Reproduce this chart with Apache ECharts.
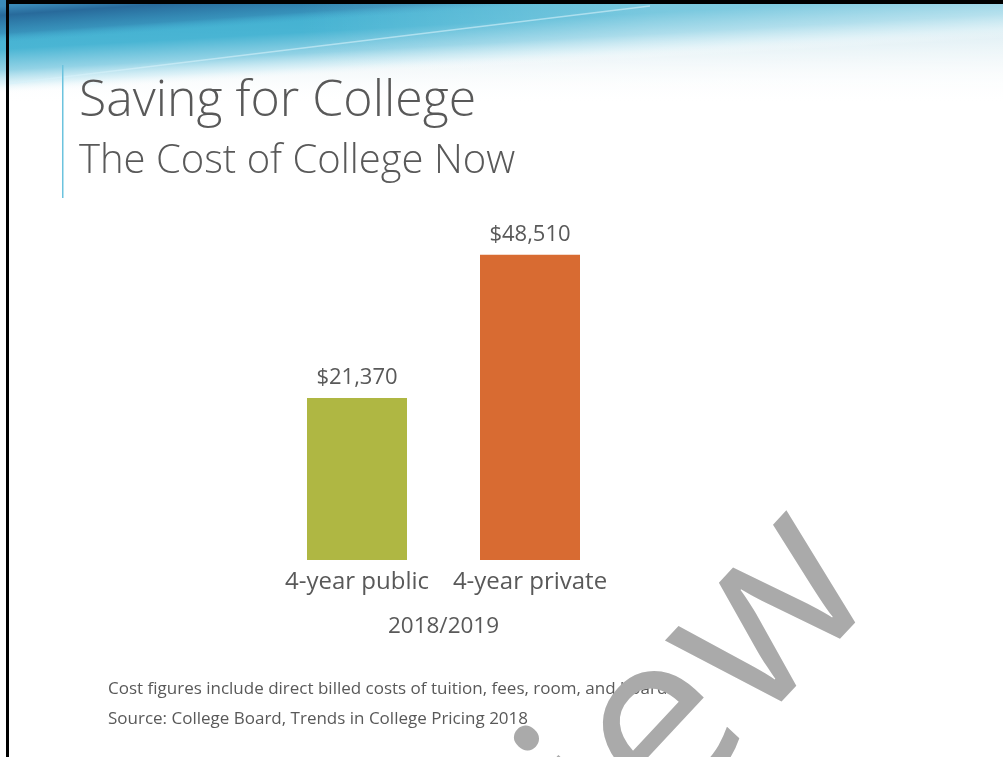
<!DOCTYPE html>
<html>
<head>
<meta charset="utf-8">
<script src="https://cdn.jsdelivr.net/npm/echarts@6/dist/echarts.min.js"></script>
<style>
html,body{margin:0;padding:0;background:#fff;}
#chart{width:1003px;height:757px;}
</style>
</head>
<body>
<div id="chart"></div>
<script>
// ---- data ----
var categories = ['4-year public', '4-year private'];
var costs = [21370, 48510];
var barColors = ['#afb743', '#d86b32'];
var axisName = '2018/2019';
var titleText = 'Saving for College';
var subtitleText = 'The Cost of College Now';
var notes = ['Cost figures include direct billed costs of tuition, fees, room, and board.',
             'Source: College Board, Trends in College Pricing 2018'];
var watermark = 'Preview';

var FONT = '"Open Sans", "Noto Sans", sans-serif';
var TXT = '#595959';
var DEG = Math.PI / 180;

function money(v) {
  return '$' + v.toLocaleString('en-US');
}

var chart = echarts.init(document.getElementById('chart'), null, {renderer: 'canvas'});

var option = {
  backgroundColor: '#ffffff',
  animation: false,
  grid: {left: 270.5, right: 386.5, top: 247, bottom: 197, containLabel: false},
  xAxis: {
    type: 'category',
    data: categories,
    name: axisName,
    nameLocation: 'middle',
    nameGap: 55,
    nameTextStyle: {fontFamily: FONT, fontSize: 22.5, color: TXT},
    axisLine: {show: false},
    axisTick: {show: false},
    axisLabel: {fontFamily: FONT, fontSize: 24, color: TXT, margin: 10, interval: 0}
  },
  yAxis: {
    type: 'value',
    min: -9300,
    max: 50000,
    show: false,
    splitLine: {show: false}
  },
  series: [{
    type: 'custom',
    data: categories.map(function (c, i) { return [i, costs[i]]; }),
    encode: {x: 0, y: 1},
    renderItem: function (params, api) {
      var cat = api.value(0), val = api.value(1);
      var top = api.coord([cat, val]);
      var cs = params.coordSys;
      var baseY = cs.y + cs.height;
      var w = api.size([1, 0])[0] * 0.578;
      return {
        type: 'group',
        children: [
          {type: 'rect', shape: {x: top[0] - w / 2, y: top[1], width: w, height: baseY - top[1]},
           style: {fill: barColors[params.dataIndex]}},
          {type: 'text', x: top[0], y: top[1] - 20,
           style: {text: money(val), align: 'center', verticalAlign: 'middle',
                   fill: TXT, font: '22px ' + FONT}}
        ]
      };
    },
    z: 5
  }],
  graphic: [
    // header: base wash
    {type: 'rect', z: 0, shape: {x: 6, y: 4, width: 997, height: 100},
     style: {fill: new echarts.graphic.LinearGradient(0, 0, 0, 1, [
       {offset: 0, color: 'rgba(110,186,208,1)'},
       {offset: 0.12, color: 'rgba(160,210,224,0.95)'},
       {offset: 0.35, color: 'rgba(205,230,238,0.85)'},
       {offset: 0.65, color: 'rgba(235,244,247,0.6)'},
       {offset: 1, color: 'rgba(255,255,255,0)'}])}},
    // teal diagonal band
    {type: 'rect', z: 0, x: 6, y: 94, rotation: 3.2 * DEG,
     shape: {x: -60, y: -100, width: 1160, height: 100},
     style: {fill: new echarts.graphic.LinearGradient(0, 0, 0, 1, [
       {offset: 0, color: 'rgba(62,172,206,1)'},
       {offset: 0.55, color: 'rgba(66,178,210,0.95)'},
       {offset: 0.76, color: 'rgba(130,204,226,0.85)'},
       {offset: 0.9, color: 'rgba(205,236,245,0.6)'},
       {offset: 1, color: 'rgba(255,255,255,0)'}])}},
    // dark blue diagonal band
    {type: 'rect', z: 0, x: 6, y: 42, rotation: 4 * DEG,
     shape: {x: -60, y: -60, width: 800, height: 60},
     style: {fill: new echarts.graphic.LinearGradient(0, 0, 0, 1, [
       {offset: 0, color: 'rgba(58,138,184,1)'},
       {offset: 0.4, color: 'rgba(58,138,184,1)'},
       {offset: 0.55, color: 'rgba(40,106,155,1)'},
       {offset: 0.85, color: 'rgba(45,120,168,0.55)'},
       {offset: 1, color: 'rgba(60,160,200,0)'}])}},
    // right-side whitening (pure white: invisible on white background)
    {type: 'rect', z: 0, shape: {x: 300, y: 4, width: 703, height: 110},
     style: {fill: new echarts.graphic.LinearGradient(0, 0, 1, 0, [
       {offset: 0, color: 'rgba(255,255,255,0)'},
       {offset: 0.5, color: 'rgba(255,255,255,0.28)'},
       {offset: 1, color: 'rgba(255,255,255,0.4)'}])}},
    // light streak
    {type: 'line', z: 0, shape: {x1: 6, y1: 84, x2: 650, y2: 6},
     style: {stroke: 'rgba(215,242,250,0.6)', lineWidth: 1.5}},
    // borders
    {type: 'rect', z: 10, shape: {x: 6, y: 0, width: 997, height: 4}, style: {fill: '#000'}},
    {type: 'rect', z: 10, shape: {x: 6, y: 0, width: 3, height: 757}, style: {fill: '#000'}},
    // accent line
    {type: 'rect', z: 2, shape: {x: 62, y: 65, width: 1.5, height: 133}, style: {fill: '#6cc3de'}},
    // titles
    {type: 'text', z: 3, x: 79, y: 102,
     style: {text: titleText, font: '300 50px ' + FONT, fill: TXT, align: 'left', verticalAlign: 'middle'}},
    {type: 'text', z: 3, x: 79, y: 162,
     style: {text: subtitleText, font: '300 40px ' + FONT, fill: TXT, align: 'left', verticalAlign: 'middle'}},
    // notes
    {type: 'text', z: 3, x: 108, y: 689,
     style: {text: notes[0], font: '17px ' + FONT, fill: TXT, align: 'left', verticalAlign: 'middle'}},
    {type: 'text', z: 3, x: 108, y: 719,
     style: {text: notes[1], font: '17px ' + FONT, fill: TXT, align: 'left', verticalAlign: 'middle'}},
    // watermark
    {type: 'text', z: 20, x: 536, y: 866, rotation: 47 * DEG,
     style: {text: watermark, font: '237px ' + FONT, fill: 'rgba(170,170,170,1)', align: 'center', verticalAlign: 'middle'}}
  ]
};
chart.setOption(option);
</script>
</body>
</html>
